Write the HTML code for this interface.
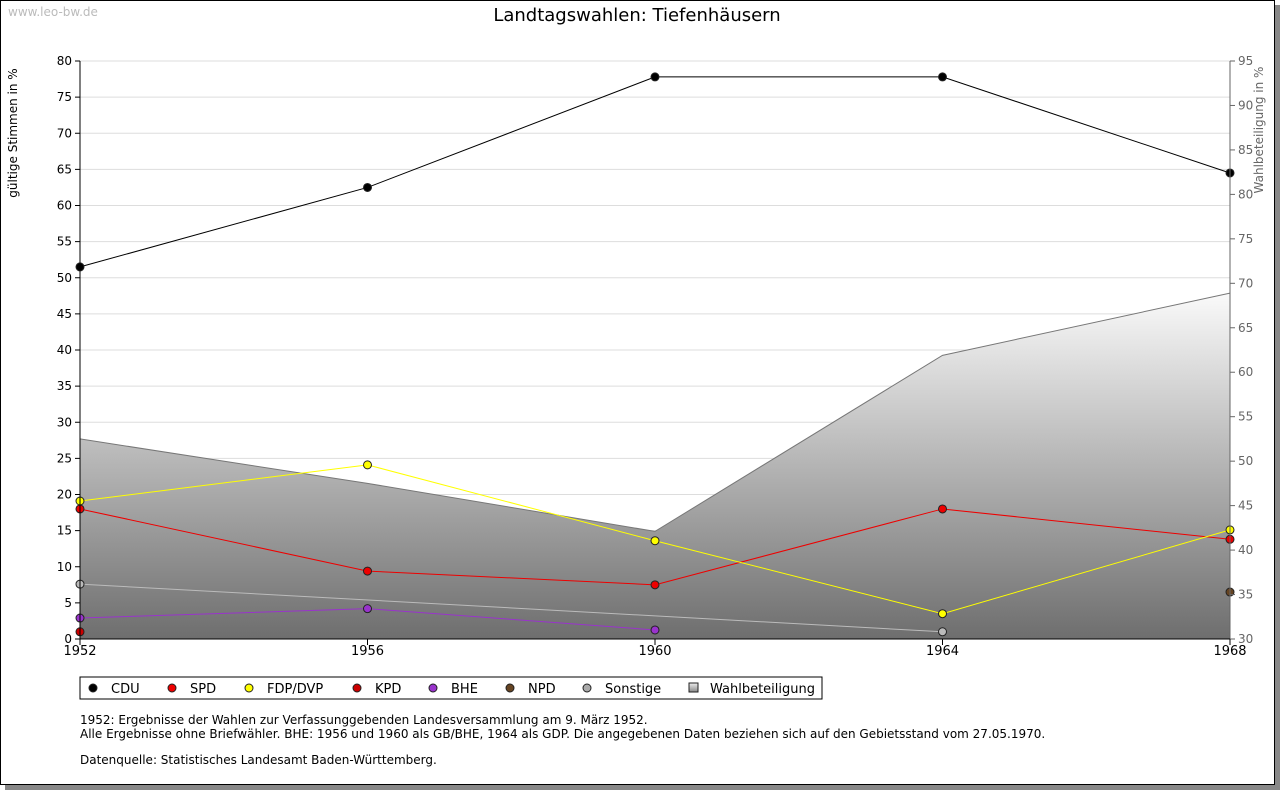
<!DOCTYPE html>
<html><head><meta charset="utf-8"><style>
body{margin:0;background:#fff;width:1280px;height:791px;overflow:hidden;font-family:"DejaVu Sans","Liberation Sans",sans-serif;}
#frame{position:absolute;left:0;top:0;width:1273px;height:783px;border:1px solid #000;background:#fff;box-shadow:5px 5px 0 #888;}
</style></head><body>
<div id="frame"></div>
<svg id="chart" width="1280" height="791" style="position:absolute;left:0;top:0" font-family="DejaVu Sans, Liberation Sans, sans-serif">
<defs><linearGradient id="g" x1="0" y1="0" x2="0" y2="1"><stop offset="0" stop-color="#fafafa"/><stop offset="1" stop-color="#6e6e6e"/></linearGradient>
<linearGradient id="gl" x1="0" y1="0" x2="0" y2="1"><stop offset="0" stop-color="#eee"/><stop offset="1" stop-color="#888"/></linearGradient></defs>
<text x="8" y="16" font-size="12" fill="#bbb">www.leo-bw.de</text>
<text x="637" y="21" font-size="18" text-anchor="middle">Landtagswahlen: Tiefenhäusern</text>
<text transform="translate(17,133) rotate(-90)" font-size="12" text-anchor="middle">gültige Stimmen in %</text>
<text transform="translate(1263,130) rotate(-90)" font-size="12" text-anchor="middle" fill="#666">Wahlbeteiligung in %</text>
<g id="grid"></g><g id="area"></g><g id="lines"></g><g id="axes"></g>
<g><rect x="80" y="677" width="742" height="22" fill="#fff" stroke="#000"/><g id="leg"></g></g>
<g font-size="12">
<text x="80" y="724">1952: Ergebnisse der Wahlen zur Verfassunggebenden Landesversammlung am 9. März 1952.</text>
<text x="80" y="738">Alle Ergebnisse ohne Briefwähler. BHE: 1956 und 1960 als GB/BHE, 1964 als GDP. Die angegebenen Daten beziehen sich auf den Gebietsstand vom 27.05.1970.</text>
<text x="80" y="764">Datenquelle: Statistisches Landesamt Baden-Württemberg.</text></g>
</svg>
<script>
const years=[1952,1956,1960,1964,1968];
const cdu=[51.5,62.5,77.8,77.8,64.5];
const spd=[18,9.4,7.5,18,13.8];
const fdp=[19.1,24.1,13.6,3.5,15.1];
const kpd=[1,null,null,null,null];
const bhe=[2.9,4.2,1.25,null,null];
const npd=[null,null,null,null,6.5];
const sonst=[7.6,null,null,1,null];
const wahl=[52.5,47.5,42.1,61.9,68.9];
const yTicks=[0,5,10,15,20,25,30,35,40,45,50,55,60,65,70,75,80];
const y2Ticks=[30,35,40,45,50,55,60,65,70,75,80,85,90,95];
const X0=80,X1=1230,Y0=639,Y1=61;
const x=v=>X0+(v-years[0])/(years[years.length-1]-years[0])*(X1-X0);
const y=v=>Y0-v/80*(Y0-Y1);
const y2=v=>Y0-(v-30)/65*(Y0-Y1);
const NS='http://www.w3.org/2000/svg';
function mk(t,a,p){const e=document.createElementNS(NS,t);for(const k in a)e.setAttribute(k,a[k]);p.appendChild(e);return e;}
const grid=document.getElementById('grid'),axes=document.getElementById('axes'),lines=document.getElementById('lines'),area=document.getElementById('area');
yTicks.forEach(t=>{const l=mk('line',{x1:X0,x2:X1,y1:y(t),y2:y(t),stroke:'#ddd'},grid);

mk('line',{x1:X0-5,x2:X0,y1:y(t),y2:y(t),stroke:'#000'},axes);
const tx=mk('text',{x:X0-8,y:y(t)+4,'font-size':12,'text-anchor':'end'},axes);tx.textContent=t;
});
y2Ticks.forEach(t=>{mk('line',{x1:X1,x2:X1+5,y1:y2(t),y2:y2(t),stroke:'#666'},axes);
const tx=mk('text',{x:X1+8,y:y2(t)+4,'font-size':12,fill:'#666'},axes);tx.textContent=t;
});
years.forEach(yr=>{mk('line',{x1:x(yr),x2:x(yr),y1:Y0,y2:Y0+6,stroke:'#000'},axes);
const tx=mk('text',{x:x(yr),y:Y0+16,'font-size':13,'text-anchor':'middle'},axes);tx.textContent=yr;
});
mk('line',{x1:X0,x2:X0,y1:Y1,y2:Y0,stroke:'#000'},axes);
mk('line',{x1:X1,x2:X1,y1:Y1,y2:Y0,stroke:'#666'},axes);
mk('line',{x1:X0,x2:X1,y1:Y0,y2:Y0,stroke:'#000'},axes);
let d='M'+X0+','+Y0+' '+years.map((yr,i)=>'L'+x(yr)+','+y2(wahl[i])).join(' ')+' L'+X1+','+Y0+'Z';
const ar=mk('path',{d:d,fill:'url(#g)',stroke:'none'},area);

const wl=mk('polyline',{points:years.map((yr,i)=>x(yr)+','+y2(wahl[i])).join(' '),fill:'none',stroke:'#777'},area);

const series=[['cdu',cdu,'#000','#000'],['spd',spd,'#e00','#e00'],['fdp',fdp,'#ff0','#ff0'],['kpd',kpd,'#c00','#c00'],['bhe',bhe,'#93c','#93c'],['npd',npd,'#642','#642'],['sonstige',sonst,'#bbb','#bbb']];
series.forEach(([n,vals,c,f])=>{const pts=[];vals.forEach((v,i)=>{if(v!==null)pts.push([x(years[i]),y(v)]);});
if(pts.length>1){const pl=mk('polyline',{points:pts.map(p=>p.join(',')).join(' '),fill:'none',stroke:c},lines);
}
pts.forEach(p=>{const m=mk('circle',{cx:p[0],cy:p[1],r:4,fill:f,stroke:'#222'},lines);
});});
const leg=document.getElementById('leg');
const legItems=[['CDU','#000',93],['SPD','#e00',172],['FDP/DVP','#ff0',249],['KPD','#c00',357],['BHE','#93c',433],['NPD','#642',510],['Sonstige','#aaa',587]];
legItems.forEach(([t,c,lx])=>{const m=mk('circle',{cx:lx,cy:688,r:4,fill:c,stroke:'#222'},leg);

const tx=mk('text',{x:lx+18,y:693,'font-size':13},leg);tx.textContent=t;
});
const r=mk('rect',{x:689,y:683,width:9,height:9,fill:'url(#gl)',stroke:'#222'},leg);

const wt=mk('text',{x:710,y:693,'font-size':13},leg);wt.textContent='Wahlbeteiligung';

</script>
</body></html>
